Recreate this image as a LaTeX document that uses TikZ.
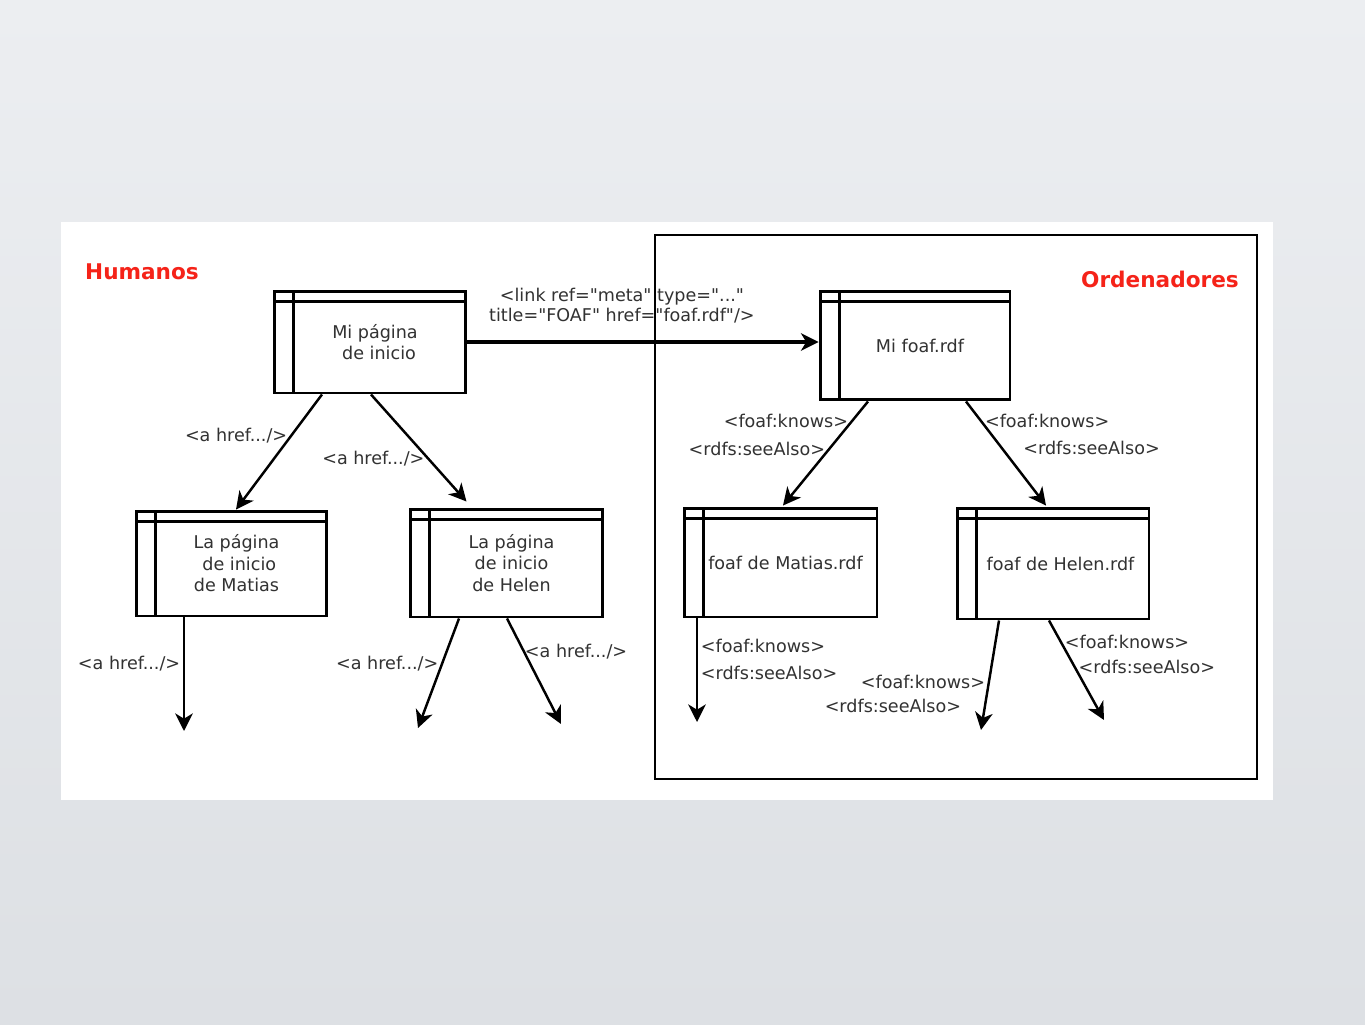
\documentclass[tikz,border=0pt]{standalone}
\usepackage{fontspec}
\setmainfont{DejaVu Sans}[Ligatures=TeXOff]
\usetikzlibrary{arrows.meta,calc}
\definecolor{humred}{RGB}{245,35,25}
\definecolor{bgtop}{RGB}{236,238,241}
\definecolor{bgbot}{RGB}{221,224,228}
\definecolor{inkgray}{RGB}{50,50,50}
\tikzset{
  pagebox/.style={draw, line width=1.7pt, fill=white, minimum width=3.84cm, minimum height=2.12cm,
    align=center, font=\fontsize{10}{12.2}\selectfont, text=inkgray,
    path picture={
      \draw[line width=1.7pt] ([xshift=0.38cm]path picture bounding box.north west) -- ([xshift=0.38cm]path picture bounding box.south west);
      \draw[line width=1.7pt] ([yshift=-0.2cm]path picture bounding box.north west) -- ([yshift=-0.2cm]path picture bounding box.north east);}},
  link/.style={-{Stealth[length=10pt,width=10pt,inset=3pt]}, line width=1.4pt},
  tag/.style={font=\fontsize{10}{11.3}\selectfont, text=inkgray, inner sep=1.5pt},
  zone/.style={font=\fontsize{12.3}{15}\selectfont\bfseries, text=humred}
}
\begin{document}
\begin{tikzpicture}[x=0.02cm,y=-0.02cm]
                \useasboundingbox (0,0) rectangle (1365,1024);
                \shade[top color=bgtop, bottom color=bgbot] (0,0) rectangle (1365,1024);
                \fill[white] (61,222) rectangle (1273,800);
                \draw[line width=1.6pt] (655,235) rectangle (1257,779);

                \node[zone] (hum) at (142,272) {Humanos};
                \node[zone] (ord) at (1160,279) {Ordenadores};

                \node[pagebox, minimum height=2.04cm] (mipag) at (370,342) {\hspace*{0.2cm}Mi página\\\hspace*{0.25cm} de inicio};
                \node[pagebox, minimum width=3.82cm, minimum height=2.1cm] (matp) at (231.5,563.5) {\hspace*{0.2cm}La página\\\hspace*{0.2cm} de inicio\\\hspace*{0.2cm}de Matias};
                \node[pagebox, minimum height=2.16cm] (help) at (506.5,563) {\hspace*{0.2cm}La página\\\hspace*{0.2cm}de inicio\\\hspace*{0.2cm}de Helen};
                \node[pagebox, minimum width=3.8cm, minimum height=2.18cm] (mifoaf) at (915,345.5) {\hspace*{0.2cm}Mi foaf.rdf};
                \node[pagebox, minimum width=3.86cm, minimum height=2.18cm] (fmat) at (780.5,562.5) {\hspace*{0.2cm}foaf de Matias.rdf};
                \node[pagebox, minimum height=2.22cm] (fhel) at (1053,563.5) {\hspace*{0.3cm}foaf de Helen.rdf};

                \coordinate (matend) at (184,731);
                \coordinate (helendl) at (418,728);
                \coordinate (helendr) at (561,724);
                \coordinate (fmatend) at (697,722);
                \coordinate (fhelendl) at (981,730);
                \coordinate (fhelendr) at (1104,720);

                \draw[link, line width=1.8pt] (mipag.east) to node[tag, above=0.3cm, pos=0.44, align=center] {<link ref="meta" type="..."\\title="FOAF" href="foaf.rdf"/>} (mipag.east -| mifoaf.west);

                \draw[link] ($(mipag.south)+(-48,0)$) to node[tag, left, pos=0.36] {<a href.../>} ($(matp.north)+(4.5,0)$);
                \draw[link] ($(mipag.south)+(1,0)$) to node[tag, left, pos=0.6] {<a href.../>} ($(help.north)+(-40,-6)$);
                \draw[link] ($(matp.south)+(-47.5,0)$) to node[tag, left, pos=0.41] {<a href.../>} (matend);
                \draw[link] ($(help.south)+(-47.5,0)$) to node[tag, left, pos=0.41] {<a href.../>} (helendl);
                \draw[link] ($(help.south)+(0.5,0)$) to node[tag, right, pos=0.31, inner sep=0pt] {<a href.../>} (helendr);

                \draw[link] ($(mifoaf.south)+(-47,0)$) to node[tag, left, pos=0.19] {<foaf:knows>} node[tag, left, pos=0.46] {<rdfs:seeAlso>} ($(fmat.north)+(2.5,-1)$);
                \draw[link] ($(mifoaf.south)+(51,0)$) to node[tag, right, pos=0.19] {<foaf:knows>} node[tag, right=0.35cm, pos=0.45] {<rdfs:seeAlso>} ($(fhel.north)+(-7,-1)$);
                \draw[link] ($(fmat.south)+(-83.5,0)$) to node[tag, right, pos=0.27] {<foaf:knows>} node[tag, right, pos=0.53] {<rdfs:seeAlso>} (fmatend);
                \draw[link] ($(fhel.south)+(-54,0)$) to node[tag, left, pos=0.56] {<foaf:knows>} node[tag, left=0.4cm, pos=0.78] {<rdfs:seeAlso>} (fhelendl);
                \draw[link] ($(fhel.south)+(-4,0)$) to node[tag, right, pos=0.22] {<foaf:knows>} node[tag, right, pos=0.47] {<rdfs:seeAlso>} (fhelendr);
            \end{tikzpicture}
\end{document}
